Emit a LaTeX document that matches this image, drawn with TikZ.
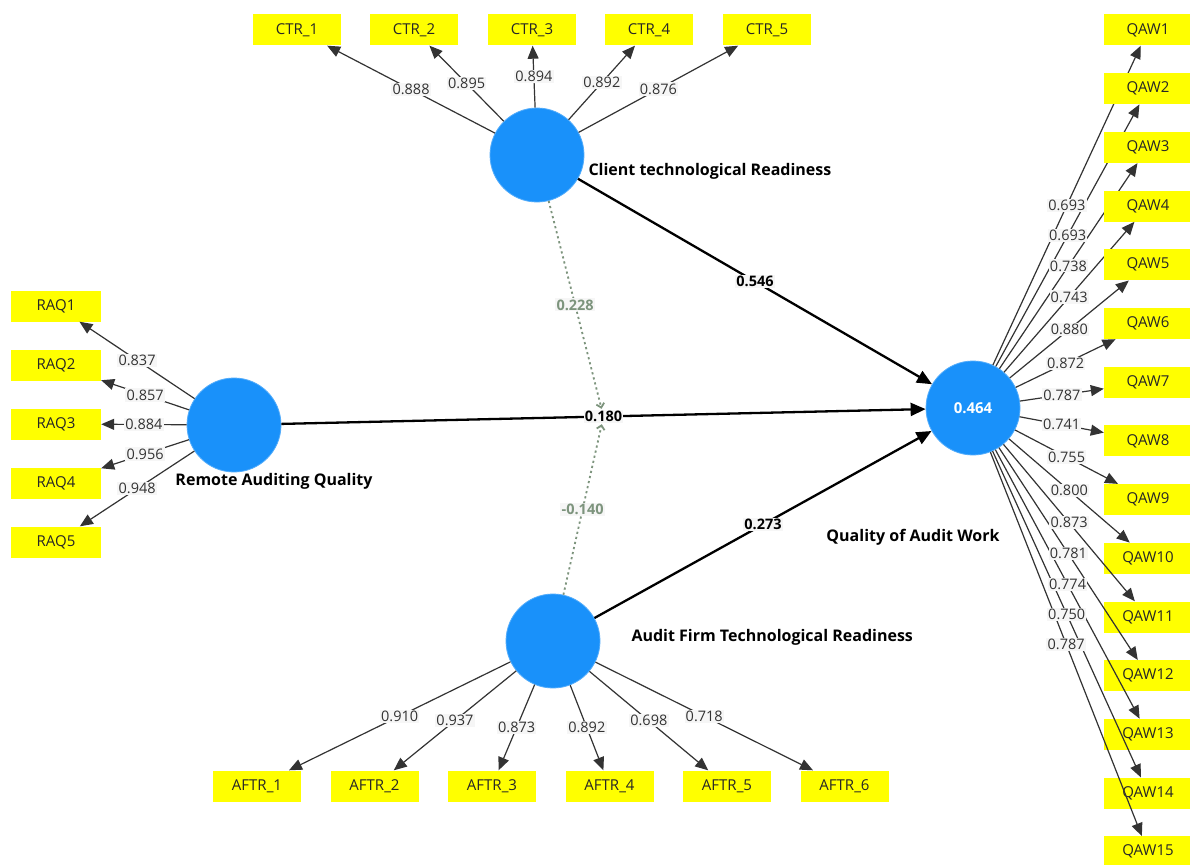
\documentclass[tikz,border=0pt]{standalone}
\usepackage{fontspec}
\setmainfont{Open Sans}
\usetikzlibrary{arrows.meta}
\definecolor{lvblue}{RGB}{25,145,250}
\definecolor{indyellow}{RGB}{255,255,0}
\definecolor{modgreen}{RGB}{125,148,125}
\definecolor{lblbg}{RGB}{246,246,246}
\begin{document}
\begin{tikzpicture}[x=1pt,y=-1pt,
 lvcircle/.style={circle,fill=lvblue,draw=lvblue!75!white,line width=0.8pt,minimum size=94pt,inner sep=0pt},
 indbox/.style={fill=indyellow,minimum width=88pt,minimum height=31pt,inner sep=0pt,text=black!85,font=\fontsize{15}{17}\selectfont},
 loading/.style={draw=black!80,line width=1.2pt,-{Triangle[length=13pt,width=11pt]}},
 struct/.style={draw=black,line width=2.3pt,-{Triangle[length=15pt,width=13pt]}},
 modarrow/.style={draw=modgreen,line width=1.8pt,dash pattern=on 2.2pt off 3pt,-{Straight Barb[length=4pt,width=8pt]}},
 lbl/.style={fill=lblbg,inner sep=1.2pt,text=black!80,font=\fontsize{14.5}{16}\selectfont},
 plbl/.style={fill=lblbg,inner sep=1.2pt,font=\bfseries\fontsize{14.5}{16}\selectfont},
 mlbl/.style={fill=lblbg,inner sep=1.2pt,text=modgreen,font=\bfseries\fontsize{14.5}{16}\selectfont},
 lvname/.style={font=\bfseries\fontsize{16}{18}\selectfont}]
\useasboundingbox[fill=white] (0,0) rectangle (1190,864);

% latent variables
\node[lvcircle] (ctr) at (537,155) {};
\node[lvcircle] (raq) at (234,425) {};
\node[lvcircle] (aftr) at (553,641) {};
\node[lvcircle,text=white,font=\bfseries\fontsize{15}{17}\selectfont] (qaw) at (973,408) {0.464};

\node[lvname,anchor=west] (nctr) at (585,171) {Client technological Readiness};
\node[lvname] (nraq) at (274,481) {Remote Auditing Quality};
\node[lvname] (nqaw) at (913,537) {Quality of Audit Work};
\node[lvname,anchor=west] (naftr) at (628,637) {Audit Firm Technological Readiness};

% CTR indicators
\foreach \x [count=\i] in {297,414,532,649,767}{
  \node[indbox] (ctr\i) at (\x,30) {CTR\_\i};
  \draw[loading] (ctr) -- coordinate (mctr\i) (ctr\i);
}
% RAQ indicators
\foreach \y [count=\i] in {306,365,424,483,542}{
  \node[indbox,minimum width=90pt] (raq\i) at (56,\y) {RAQ\i};
  \draw[loading] (raq) -- coordinate (mraq\i) (raq\i);
}
% AFTR indicators
\foreach \x [count=\i] in {257,374.5,492,609.5,727,844.5}{
  \node[indbox] (aftr\i) at (\x,786) {AFTR\_\i};
  \draw[loading] (aftr) -- coordinate (maftr\i) (aftr\i);
}
% QAW indicators
\foreach \i in {1,...,15}{
  \node[indbox] (qaw\i) at (1148,{30+58.7*(\i-1)}) {QAW\i};
  \draw[loading] (qaw) -- coordinate (mqaw\i) (qaw\i);
}

% loading labels
\foreach \v [count=\i] in {0.888,0.895,0.894,0.892,0.876}{
  \node[lbl] (lctr\i) at (mctr\i) {\v};
}
\foreach \v [count=\i] in {0.837,0.857,0.884,0.956,0.948}{
  \node[lbl] (lraq\i) at (mraq\i) {\v};
}
\foreach \v [count=\i] in {0.910,0.937,0.873,0.892,0.698,0.718}{
  \node[lbl] (laftr\i) at (maftr\i) {\v};
}
\foreach \v [count=\i] in {0.693,0.693,0.738,0.743,0.880,0.872,0.787,0.741,0.755,0.800,0.873,0.781,0.774,0.750,0.787}{
  \node[lbl] (lqaw\i) at (mqaw\i) {\v};
}

% structural paths
\draw[struct] (ctr) -- node[plbl] (p546) {0.546} (qaw);
\draw[struct] (raq) -- node[plbl] (p180) {0.180} (qaw);
\draw[struct] (aftr) -- node[plbl] (p273) {0.273} (qaw);

% moderating effects
\draw[modarrow] (ctr) -- coordinate (mm1) (p180);
\draw[modarrow] (aftr) -- coordinate (mm2) (p180);
\node[mlbl] (p228) at (mm1) {0.228};
\node[mlbl] (p140) at (mm2) {-0.140};
\end{tikzpicture}
\end{document}
